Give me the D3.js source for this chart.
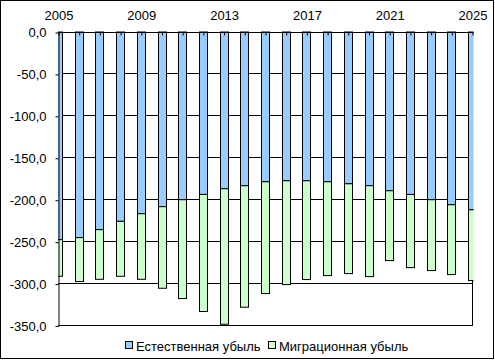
<!DOCTYPE html>
<html>
<head>
<meta charset="utf-8">
<script src="https://cdn.jsdelivr.net/npm/d3@7"></script>
<style>
  html, body { margin: 0; padding: 0; background: #fff; }
  svg { display: block; }
  text { font-family: "Liberation Sans", Arial, sans-serif; font-size: 13px; fill: #000; }
</style>
</head>
<body>
<svg id="chart" width="495" height="360"></svg>
<script>
const years = [2005,2006,2007,2008,2009,2010,2011,2012,2013,2014,2015,2016,2017,2018,2019,2020,2021,2022,2023,2024,2025];
const natural = [-247.6,-245.2,-235.7,-225.8,-216.7,-208.3,-200.0,-193.7,-186.9,-183.3,-178.6,-177.4,-177.4,-178.6,-181.0,-183.3,-189.3,-193.7,-200.0,-206.0,-212.0];
const migration = [-43.7,-52.4,-59.2,-65.5,-78.2,-97.3,-117.9,-139.6,-161.6,-144.9,-133.3,-123.8,-117.8,-111.9,-107.1,-108.4,-83.3,-87.3,-84.5,-83.3,-84.4];
const seriesNames = ["Естественная убыль", "Миграционная убыль"];
const seriesColors = ["#99CCFF", "#CCFFCC"];
const yTicks = [0,-50,-100,-150,-200,-250,-300,-350];
const xLabelYears = [2005,2009,2013,2017,2021,2025];

const svg = d3.select("#chart");
const W = 495, H = 360;
const plot = {left: 58, right: 472, top: 32, bottom: 325.5};

// outer border
svg.append("rect").attr("x",0.5).attr("y",0.5).attr("width",493).attr("height",358)
  .attr("fill","#fff").attr("stroke","#000").attr("stroke-width",1);

const x = d3.scalePoint().domain(years).range([plot.left, plot.right]);
const y = d3.scaleLinear().domain([-350, 0]).range([plot.bottom, plot.top]);
const crisp = v => Math.floor(v) + 0.5;

// plot area border lines (behind bars)
const frame = svg.append("g").attr("stroke","#000").attr("stroke-width",1).attr("fill","none");
frame.append("line").attr("x1", crisp(plot.right)).attr("x2", crisp(plot.right))
  .attr("y1", crisp(y(0))).attr("y2", crisp(y(-350)));
// gridlines
frame.selectAll("line.grid").data(yTicks.filter(d => d !== 0)).join("line")
  .attr("class","grid")
  .attr("x1", plot.left).attr("x2", plot.right + 1)
  .attr("y1", d => crisp(y(d))).attr("y2", d => crisp(y(d)));

// stacked bars
const table = years.map((yr, i) => ({year: yr, natural: natural[i], migration: migration[i]}));
const stack = d3.stack().keys(["natural","migration"]).offset(d3.stackOffsetDiverging);
const layers = stack(table);

svg.append("clipPath").attr("id","clip").append("rect")
  .attr("x", plot.left).attr("y", 0).attr("width", plot.right - plot.left + 1.5).attr("height", H);

const barW = 8;
const bars = svg.append("g").attr("clip-path","url(#clip)");
layers.forEach((layer, li) => {
  bars.append("g").selectAll("rect").data(layer).join("rect")
    .attr("x", d => Math.round(x(d.data.year)) - barW/2 + 0.5)
    .attr("width", barW)
    .attr("y", d => y(Math.max(d[0], d[1])))
    .attr("height", d => Math.abs(y(d[0]) - y(d[1])))
    .attr("fill", seriesColors[li])
    .attr("stroke", "#000").attr("stroke-width", 1);
});

// left axis
const yAxis = d3.axisLeft(y).tickValues(yTicks)
  .tickFormat(d => d3.format(".1f")(d).replace("−","-").replace(".", ","))
  .tickSizeInner(3).tickSizeOuter(0).tickPadding(9);
const gy = svg.append("g").attr("transform", `translate(${crisp(plot.left)},0.5)`).call(yAxis);
gy.select(".domain").attr("stroke","#000");
gy.selectAll(".tick line").attr("stroke","#000");
gy.selectAll("text").style("font-family","\"Liberation Sans\", Arial, sans-serif").style("font-size","13px").attr("fill","#000");

// top axis (categories)
const xAxis = d3.axisTop(x).tickSizeInner(-3).tickSizeOuter(0).tickPadding(13)
  .tickFormat(d => xLabelYears.includes(d) ? String(d) : "");
const gx = svg.append("g").attr("transform", `translate(0.5,${crisp(y(0))})`).call(xAxis);
gx.select(".domain").attr("stroke","#000").attr("d", `M${plot.left - 0.5},0H${plot.right + 1}`);
gx.selectAll(".tick line").attr("stroke","#000");
gx.selectAll("text").style("font-family","\"Liberation Sans\", Arial, sans-serif").style("font-size","13px").attr("fill","#000");

// bottom frame line
svg.append("line").attr("x1", plot.left).attr("x2", plot.right + 1)
  .attr("y1", crisp(y(-350))).attr("y2", crisp(y(-350))).attr("stroke","#000");

// legend
const legendItems = [{x: 125, name: seriesNames[0], color: seriesColors[0]},
                     {x: 268, name: seriesNames[1], color: seriesColors[1]}];
const lg = svg.append("g");
legendItems.forEach(it => {
  lg.append("rect").attr("x", it.x + 0.5).attr("y", 341.5).attr("width", 7).attr("height", 7)
    .attr("fill", it.color).attr("stroke", "#000");
  lg.append("text").attr("x", it.x + 11).attr("y", 350.5).text(it.name);
});
</script>
</body>
</html>
